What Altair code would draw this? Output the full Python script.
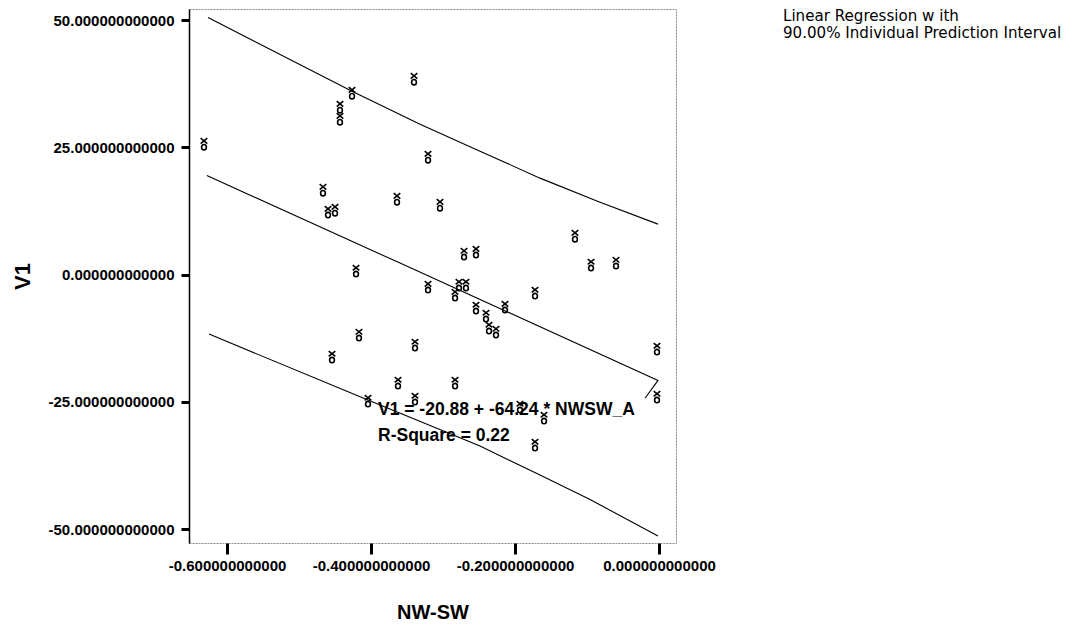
import altair as alt
import pandas as pd

# Observed points (NW-SW, V1)
nwsw = [-0.632, -0.4264, -0.4431, -0.4431, -0.3403, -0.3208, -0.4667, -0.3639, -0.3042,
        -0.4597, -0.45, -0.2708, -0.2542, -0.4208, -0.3208, -0.2778, -0.2681, -0.2833,
        -0.2542, -0.2403, -0.2361, -0.2264, -0.2139, -0.1722, -0.1167, -0.0944, -0.0597,
        -0.0028, -0.0028, -0.4167, -0.4542, -0.3389, -0.3625, -0.2833, -0.4042, -0.3389,
        -0.1931, -0.1597, -0.1722]
v1 = [25.64, 35.66, 32.91, 30.55, 38.41, 23.08, 16.6, 14.83, 13.65,
      12.28, 12.67, 4.03, 4.42, 0.69, -2.46, -2.06, -2.06, -4.03,
      -6.58, -8.15, -10.51, -11.3, -6.39, -3.63, 7.56, 1.87, 2.26,
      -14.64, -24.07, -11.89, -16.21, -13.85, -21.32, -21.32, -24.85, -24.46,
      -26.03, -28.19, -33.5]

# Lines
upper_x = [-0.6264, -0.4264, -0.3319, -0.2486, -0.1653, -0.0819, -0.0014]
upper_y = [50.53, 36.05, 29.57, 24.26, 18.96, 14.24, 9.92]
fit_x = [-0.628, -0.3597, -0.0014, -0.0194]
fit_y = [19.46, 2.26, -20.8, -24.3]
lower_x = [-0.625, -0.411, -0.2486, -0.1653, -0.0958, -0.0014]
lower_y = [-11.69, -24.26, -33.69, -39.39, -44.2, -51.38]

x_ticks = [-0.6, -0.4, -0.2, 0.0]
y_ticks = [-50, -25, 0, 25, 50]
x_domain = [-0.6528, 0.0236]
y_domain = [-52.75, 52.2]

eq_text = ["V1 = -20.88 + -64.24 * NWSW_A", "R-Square = 0.22"]
eq_x = [-0.3903, -0.3903]
eq_y = [-26.6, -31.8]
legend_lines = ["Linear Regression w ith", "90.00% Individual Prediction Interval"]

FONT = "Liberation Sans"

pts = pd.DataFrame({"x": nwsw, "y": v1})
rows = []
for name, xs_, ys_ in [("upper", upper_x, upper_y), ("fit", fit_x, fit_y), ("lower", lower_x, lower_y)]:
    for i, (a, b) in enumerate(zip(xs_, ys_)):
        rows.append({"x": a, "y": b, "series": name, "order": i})
lines = pd.DataFrame(rows)
eq = pd.DataFrame({"x": eq_x, "y": eq_y, "t": eq_text})
leg = pd.DataFrame({"t": ["\n".join(legend_lines)]})

xs = alt.Scale(domain=x_domain, nice=False, zero=False)
ys = alt.Scale(domain=y_domain, nice=False, zero=False)

LBL = "(datum.value < 0 ? '-' : '') + format(abs(datum.value), '.12f')"

xaxis = alt.Axis(values=x_ticks, labelExpr=LBL, title="NW-SW", grid=False, domain=False,
                 tickSize=11, tickWidth=3, tickColor="black", labelPadding=4,
                 labelFont=FONT, labelFontWeight="bold", labelFontSize=15, labelColor="black",
                 titleFont=FONT, titleFontWeight="bold", titleFontSize=20, titleColor="black",
                 titleY=69, titleBaseline="middle")
yaxis = alt.Axis(values=y_ticks, labelExpr=LBL, title="V1", grid=False, domain=True,
                 domainColor="black", domainWidth=1.5,
                 tickSize=8, tickWidth=3, tickColor="black", labelPadding=7,
                 labelFont=FONT, labelFontWeight="bold", labelFontSize=15, labelColor="black",
                 titleFont=FONT, titleFontWeight="bold", titleFontSize=22, titleColor="black",
                 titleX=-167, titleAngle=270, titleBaseline="middle", titleAlign="center")

line_layer = alt.Chart(lines).mark_line(color="black", strokeWidth=1.1).encode(
    x=alt.X("x:Q", scale=xs, axis=xaxis),
    y=alt.Y("y:Q", scale=ys, axis=yaxis),
    detail="series:N",
    order="order:O",
)

marker = "M-0.55,-1L0.55,-0.1M0.55,-1L-0.55,-0.1M0.4,0.5A0.4,0.45,0,1,1,-0.4,0.5A0.4,0.45,0,1,1,0.4,0.5Z"
point_layer = alt.Chart(pts).mark_point(shape=marker, size=144, filled=False, color="black",
                                         strokeWidth=1.6, opacity=1).encode(
    x=alt.X("x:Q", scale=xs), y=alt.Y("y:Q", scale=ys))

eq_layer = alt.Chart(eq).mark_text(align="left", baseline="middle", font=FONT, fontWeight="bold",
                                   fontSize=17.5, color="black").encode(
    x=alt.X("x:Q", scale=xs), y=alt.Y("y:Q", scale=ys), text="t:N")

leg_layer = alt.Chart(leg).mark_text(align="left", baseline="top", font="DejaVu Sans", fontSize=15.1,
                                     color="black", lineBreak="\n", lineHeight=17).encode(
    x=alt.value(594), y=alt.value(0), text="t:N")

chart = alt.layer(line_layer, point_layer, eq_layer, leg_layer).properties(
    width=487, height=534,
    autosize=alt.AutoSizeParams(type="none"),
    padding={"left": 181, "top": 1, "right": 391, "bottom": 84},
).configure_view(stroke="#888888", strokeWidth=1, strokeDash=[2, 1])

chart.save("out.html", embed_options={"renderer": "svg", "actions": False})
